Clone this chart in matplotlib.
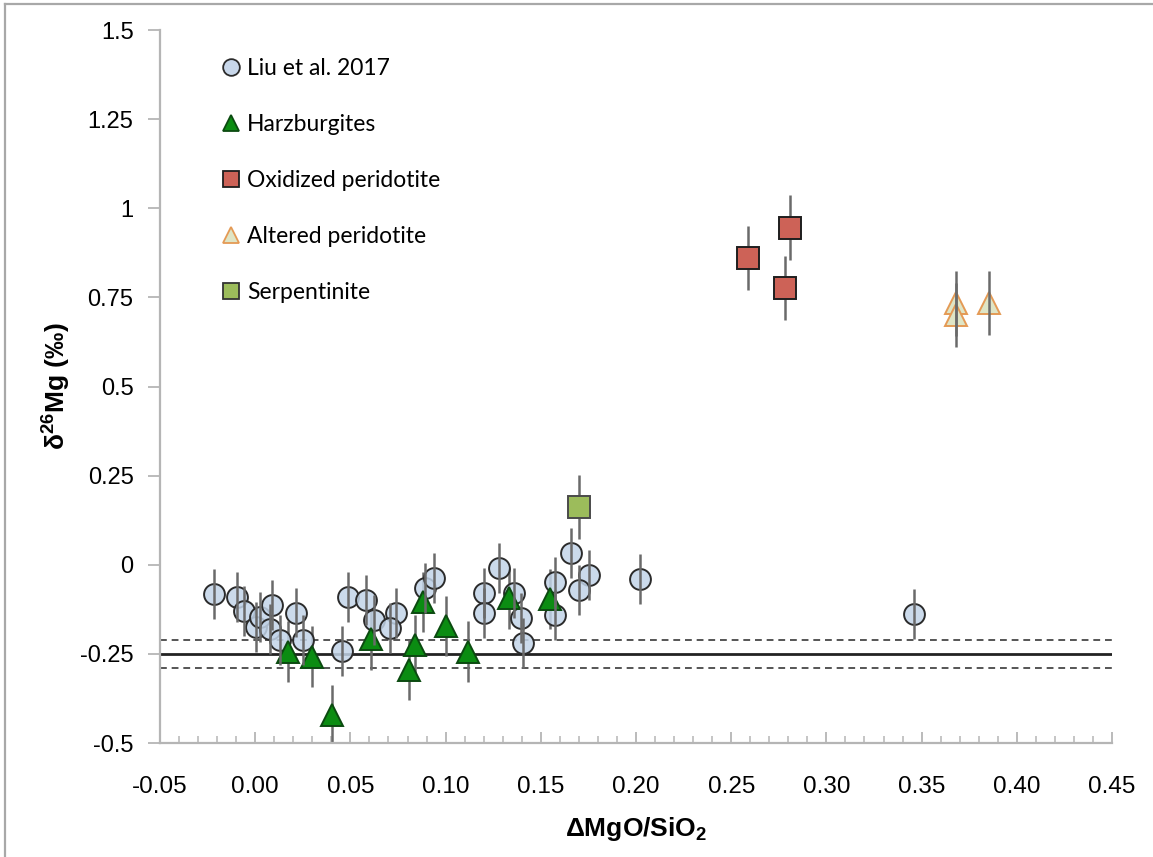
import matplotlib
matplotlib.use("Agg")
import matplotlib.pyplot as plt
from matplotlib.lines import Line2D
import numpy as np

plt.rcParams['font.family'] = ['Liberation Sans', 'DejaVu Sans']
plt.rcParams['mathtext.fontset'] = 'custom'
plt.rcParams['mathtext.rm'] = 'Liberation Sans'
plt.rcParams['mathtext.bf'] = 'Liberation Sans:bold'

# Liu et al. 2017 peridotites
liu_x = [-0.0215, -0.0094, -0.0057, 0.0004, 0.0025, 0.0088, 0.0078, 0.0130,
         0.0214, 0.0253, 0.0458, 0.0490, 0.0582, 0.0624, 0.0740, 0.0708,
         0.0890, 0.0937, 0.1202, 0.1202, 0.1279, 0.1361, 0.1394, 0.1408,
         0.1573, 0.1573, 0.1657, 0.1755, 0.1702, 0.2021, 0.3460]
liu_y = [-0.082, -0.090, -0.131, -0.175, -0.146, -0.113, -0.181, -0.212,
         -0.134, -0.212, -0.241, -0.090, -0.099, -0.155, -0.136, -0.178,
         -0.066, -0.038, -0.080, -0.136, -0.008, -0.080, -0.150, -0.220,
         -0.047, -0.141, 0.033, -0.029, -0.071, -0.040, -0.138]
liu_err = 0.07

# Harzburgites
harz_x = [0.0171, 0.0300, 0.0402, 0.0610, 0.0883, 0.0839, 0.0808, 0.1002,
          0.1120, 0.1333, 0.1548]
harz_y = [-0.244, -0.258, -0.421, -0.209, -0.104, -0.225, -0.295, -0.172,
          -0.244, -0.094, -0.096]
harz_err = 0.085

# Oxidized peridotite
oxi_x = [0.259, 0.281, 0.278]
oxi_y = [0.861, 0.946, 0.777]
oxi_err = 0.09

# Altered peridotite
alt_x = [0.368, 0.368, 0.3856]
alt_y = [0.733, 0.700, 0.735]
alt_err = 0.09

# Serpentinite
serp_x = [0.1702]
serp_y = [0.163]
serp_err = 0.09

# Reference mantle value and its uncertainty band
mantle_mean = -0.25
mantle_band = 0.04

x_ticks = [-0.05, 0.00, 0.05, 0.10, 0.15, 0.20, 0.25, 0.30, 0.35, 0.40, 0.45]
y_ticks = [-0.5, -0.25, 0, 0.25, 0.5, 0.75, 1, 1.25, 1.5]
y_ticklabels = ['-0.5', '-0.25', '0', '0.25', '0.5', '0.75', '1', '1.25', '1.5']

W, H = 1153, 857
fig = plt.figure(figsize=(W / 100, H / 100), dpi=100)
ax = fig.add_axes([160 / W, 1 - 743 / H, (1112 - 160) / W, (743 - 30) / H])

ax.set_xlim(-0.05, 0.45)
ax.set_ylim(-0.5, 1.5)

# mantle reference lines
ax.axhline(mantle_mean, color='#222222', lw=2.0, zorder=1)
for off in (-mantle_band, mantle_band):
    ax.axhline(mantle_mean + off, color='#555555', lw=1.4, ls=(0, (3.5, 2.5)), zorder=1)

bar_col = '#6a6a6a'

def series(xs, ys, err, marker, ms, fc, ec, bars_on_top):
    ax.errorbar(xs, ys, yerr=err, fmt='none', ecolor=bar_col, elinewidth=1.8,
                capsize=0, zorder=4 if bars_on_top else 2)
    ax.plot(xs, ys, ls='none', marker=marker, ms=ms, mfc=fc, mec=ec, mew=1.4,
            zorder=3)

series(liu_x, liu_y, liu_err, 'o', 15, (0.76, 0.83, 0.91, 0.85), '#2b2b2b', True)
series(harz_x, harz_y, harz_err, '^', 16, '#0b8c12', '#0b4a10', False)
series(oxi_x, oxi_y, oxi_err, 's', 15.5, '#cd6257', '#1e1e1e', False)
series(alt_x, alt_y, alt_err, '^', 16, '#dfe5c6', '#e49a55', True)
series(serp_x, serp_y, serp_err, 's', 15.5, '#9cbc5b', '#4a4a4a', False)

# legend
handles = [
    Line2D([], [], ls='none', marker='o', ms=12, mfc='#c8d7ea', mec='#2b2b2b', mew=1.3),
    Line2D([], [], ls='none', marker='^', ms=12, mfc='#0b8c12', mec='#0b4a10', mew=1.3),
    Line2D([], [], ls='none', marker='s', ms=12, mfc='#cd6257', mec='#1e1e1e', mew=1.3),
    Line2D([], [], ls='none', marker='^', ms=12, mfc='#dfe5c6', mec='#e49a55', mew=1.3),
    Line2D([], [], ls='none', marker='s', ms=12, mfc='#9cbc5b', mec='#333333', mew=1.3),
]
labels = ['Liu et al. 2017', 'Harzburgites', 'Oxidized peridotite',
          'Altered peridotite', 'Serpentinite']
ax.legend(handles, labels, loc='upper left', bbox_to_anchor=(0.055, 0.973),
          frameon=False, prop={'family': 'Lato', 'size': 16.5},
          labelspacing=1.52, handlelength=0.8, handletextpad=0.3,
          borderaxespad=0)

# axes styling
for s in ('top', 'right'):
    ax.spines[s].set_visible(False)
for s in ('left', 'bottom'):
    ax.spines[s].set_color('#b5b5b5')
    ax.spines[s].set_linewidth(1.6)

ax.set_xticks(x_ticks)
ax.set_xticklabels([f'{v:.2f}' for v in x_ticks], fontsize=17.5)
ax.set_xticks(np.arange(-0.05, 0.4501, 0.01), minor=True)
ax.set_yticks(y_ticks)
ax.set_yticklabels(y_ticklabels, fontsize=17)
ax.tick_params(axis='x', which='major', direction='in', length=8, width=1.3,
               color='#b5b5b5', pad=24)
ax.tick_params(axis='x', which='minor', direction='in', length=5, width=1.1,
               color='#b5b5b5')
ax.tick_params(axis='y', which='major', direction='out', length=9, width=1.3,
               color='#b5b5b5', pad=10)

ax.set_xlabel(r'ΔMgO/SiO$_{\mathbf{2}}$', fontsize=19, fontweight='bold', labelpad=12)
ax.set_ylabel(r'δ$^{\mathbf{26}}$Mg (‰)', fontsize=19, fontweight='bold', labelpad=6)

# outer frame lines (top and left edges)
fig.add_artist(Line2D([5 / W, 5 / W], [0, 1 - 4 / H], color='#a8a8a8', lw=1.6))
fig.add_artist(Line2D([5 / W, 1], [1 - 4 / H, 1 - 4 / H], color='#a8a8a8', lw=1.6))

fig.savefig('out.png', dpi=100)
